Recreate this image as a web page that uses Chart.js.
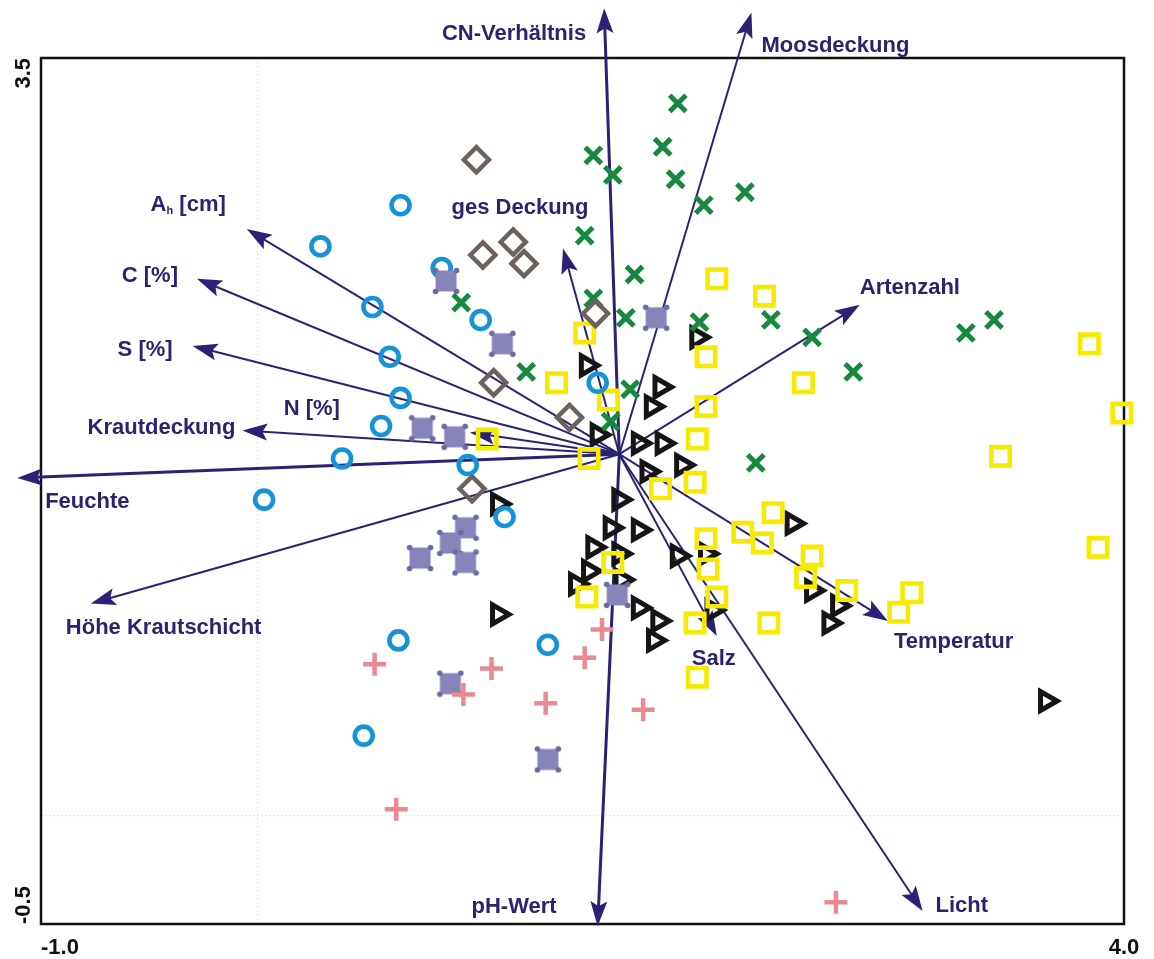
<!DOCTYPE html>
<html>
<head>
<meta charset="utf-8">
<script src="https://cdn.jsdelivr.net/npm/chart.js@4/dist/chart.umd.min.js"></script>
<style>
  html, body { margin: 0; padding: 0; background: #ffffff; }
  canvas { display: block; }
</style>
</head>
<body>
<canvas id="ordination" width="1154" height="959"></canvas>
<script>
// ---- sample scores (axis 1, axis 2) per vegetation group ----
const groupCircle = [[0.66,2.82],[0.29,2.63],[0.85,2.53],[0.53,2.35],[1.03,2.29],[0.61,2.12],[1.57,2.00],[0.66,1.93],[0.57,1.80],[0.39,1.65],[0.97,1.62],[0.03,1.46],[1.14,1.38],[0.65,0.81],[1.34,0.79],[0.49,0.37]];
const groupDiamond = [[1.01,3.03],[1.18,2.65],[1.04,2.59],[1.23,2.55],[1.56,2.32],[1.09,2.00],[1.44,1.84],[0.99,1.51]];
const groupCross = [[1.94,3.29],[1.87,3.09],[1.55,3.05],[1.64,2.96],[1.93,2.94],[2.25,2.88],[2.06,2.82],[1.51,2.68],[1.74,2.50],[0.94,2.37],[1.55,2.39],[1.70,2.30],[2.04,2.28],[2.37,2.29],[2.56,2.21],[3.27,2.23],[3.40,2.29],[2.75,2.05],[1.24,2.05],[1.72,1.97],[1.63,1.82],[2.30,1.63]];
const groupSquare = [[2.12,2.48],[2.34,2.40],[1.51,2.23],[2.07,2.12],[1.38,2.00],[2.52,2.00],[1.62,1.92],[2.07,1.89],[1.06,1.74],[2.03,1.74],[1.53,1.65],[1.86,1.51],[2.02,1.54],[3.84,2.18],[3.99,1.86],[3.43,1.66],[3.88,1.24],[2.38,1.40],[2.24,1.31],[2.33,1.26],[2.07,1.28],[2.56,1.20],[1.64,1.17],[2.08,1.14],[2.53,1.10],[2.72,1.04],[2.12,1.01],[3.02,1.03],[2.96,0.94],[1.52,1.01],[2.02,0.89],[2.36,0.89],[2.03,0.64]];
const groupTriangle = [[2.03,2.21],[1.52,2.08],[1.86,1.98],[1.82,1.89],[1.57,1.76],[1.76,1.72],[1.87,1.72],[1.96,1.62],[1.80,1.59],[1.67,1.46],[1.11,1.44],[1.63,1.33],[1.76,1.32],[1.55,1.24],[1.67,1.21],[1.94,1.20],[2.07,1.21],[1.53,1.13],[1.47,1.07],[1.68,1.09],[1.76,0.96],[1.85,0.90],[2.10,0.95],[1.83,0.81],[1.11,0.93],[2.47,1.35],[2.56,1.04],[2.68,0.97],[2.64,0.89],[3.64,0.53]];
const groupStud = [[0.87,2.47],[1.84,2.30],[1.13,2.18],[0.76,1.79],[0.91,1.75],[0.96,1.33],[0.89,1.26],[0.75,1.19],[0.96,1.17],[1.66,1.02],[0.89,0.61],[1.34,0.26]];
const groupPlus = [[0.54,0.70],[1.59,0.86],[1.51,0.73],[1.08,0.68],[0.95,0.56],[1.33,0.52],[1.78,0.49],[0.64,0.03],[2.67,-0.40]];

// ---- environmental variables (arrow tips, drawn from a common origin) ----
const envOrigin = [1.67, 1.67];
const envNames = ['CN-Verhältnis','Moosdeckung','ges Deckung','Artenzahl','A_h [cm]','C [%]','S [%]','N [%]','Krautdeckung','Feuchte','Höhe Krautschicht','pH-Wert','Salz','Temperatur','Licht'];
const envX = [1.60, 2.28, 1.41, 2.78, -0.05, -0.28, -0.30, 0.98, -0.07, -1.11, -0.77, 1.57, 2.12, 2.91, 3.07];
const envY = [3.73, 3.71, 2.62, 2.36, 2.71, 2.48, 2.17, 1.77, 1.78, 1.56, 0.98, -0.51, 0.83, 0.90, -0.44];

// ---- axis range and tick labels ----
const xRange = [-1.0, 4.0];
const yRange = [-0.5, 3.5];
const xTickValues = [-1.0, 4.0];
const xTickLabels = ['-1.0', '4.0'];
const yTickValues = [3.5, -0.5];
const yTickLabels = ['3.5', '-0.5'];
const zeroLines = [0, 0];

// ---- styling ----
const ARROW = '#2b2275';
const LABEL = '#2a2470';
const LABEL_FONT = '700 22px "Liberation Sans", Arial, sans-serif';
const TICK_FONT = '700 22px "Liberation Sans", Arial, sans-serif';
const envLineWidth = [3, 2, 2, 2, 2, 2, 2, 2, 2, 3, 2, 3, 2, 2, 2];
// label offset from arrow tip in px and text alignment
const envLabelPlace = [
  [-18, 26, 'right'], [10, 33, 'left'], [-43, -41, 'center'], [0, -17, 'left'],
  [-21, -24, 'right'], [-19, -3, 'right'], [-20, 4, 'right'], [-130, -24, 'right'],
  [-7, -2, 'right'], [28, 24, 'left'], [-25, 24, 'left'], [-41, -19, 'right'],
  [-3, 23, 'center'], [6, 21, 'left'], [13, -5, 'left']
];

// filled square with small studs at its corners
function makeStudMarker(size, fill, dot) {
  const c = document.createElement('canvas');
  c.width = size; c.height = size;
  const g = c.getContext('2d');
  const m = 3.5;
  g.fillStyle = fill;
  g.fillRect(m, m, size - 2 * m, size - 2 * m);
  g.fillStyle = dot;
  [[m, m], [size - m, m], [m, size - m], [size - m, size - m]].forEach(([px, py]) => {
    g.beginPath(); g.arc(px, py, 2.8, 0, Math.PI * 2); g.fill();
  });
  return c;
}

const toXY = arr => arr.map(([x, y]) => ({ x, y }));

// draws "A_h" style labels with a subscript part
function drawRichLabel(ctx, text, x, y, align) {
  const m = text.match(/^(.*?)_(\S)(.*)$/);
  if (!m) {
    ctx.textAlign = align;
    ctx.fillText(text, x, y);
    return;
  }
  const subFont = '700 11px "Liberation Sans", Arial, sans-serif';
  ctx.font = LABEL_FONT;
  const w1 = ctx.measureText(m[1]).width;
  const w3 = ctx.measureText(m[3]).width;
  ctx.font = subFont;
  const w2 = ctx.measureText(m[2]).width;
  const total = w1 + w2 + w3;
  let sx = align === 'right' ? x - total : align === 'center' ? x - total / 2 : x;
  ctx.textAlign = 'left';
  ctx.font = LABEL_FONT;
  ctx.fillText(m[1], sx, y);
  ctx.font = subFont;
  ctx.fillText(m[2], sx + w1, y + 6);
  ctx.font = LABEL_FONT;
  ctx.fillText(m[3], sx + w1 + w2, y);
}

const biplotPlugin = {
  id: 'biplot',
  beforeDatasetsDraw(chart) {
    const { ctx, chartArea: a, scales: { x, y } } = chart;
    ctx.save();
    // faint dotted zero lines
    ctx.strokeStyle = '#e2e2e2';
    ctx.lineWidth = 1;
    ctx.setLineDash([2, 2]);
    const zx = x.getPixelForValue(zeroLines[0]);
    const zy = y.getPixelForValue(zeroLines[1]);
    ctx.beginPath();
    ctx.moveTo(zx, a.top); ctx.lineTo(zx, a.bottom);
    ctx.moveTo(a.left, zy); ctx.lineTo(a.right, zy);
    ctx.stroke();
    ctx.setLineDash([]);
    // frame
    ctx.strokeStyle = '#111111';
    ctx.lineWidth = 2.5;
    ctx.strokeRect(a.left, a.top, a.right - a.left, a.bottom - a.top);
    // arrows
    const ox = x.getPixelForValue(envOrigin[0]);
    const oy = y.getPixelForValue(envOrigin[1]);
    envNames.forEach((name, i) => {
      const tx = x.getPixelForValue(envX[i]);
      const ty = y.getPixelForValue(envY[i]);
      const ang = Math.atan2(ty - oy, tx - ox);
      const c = Math.cos(ang), s = Math.sin(ang);
      const L = 25, W = 8.5;
      ctx.strokeStyle = ARROW;
      ctx.fillStyle = ARROW;
      ctx.lineWidth = envLineWidth[i];
      ctx.beginPath();
      ctx.moveTo(ox, oy);
      ctx.lineTo(tx - 0.7 * L * c, ty - 0.7 * L * s);
      ctx.stroke();
      const bx = tx - L * c, by = ty - L * s;
      ctx.beginPath();
      ctx.moveTo(tx, ty);
      ctx.lineTo(bx - W * s, by + W * c);
      ctx.lineTo(tx - 0.8 * L * c, ty - 0.8 * L * s);
      ctx.lineTo(bx + W * s, by - W * c);
      ctx.closePath();
      ctx.fill();
    });
    ctx.restore();
  },
  afterDatasetsDraw(chart) {
    const { ctx, chartArea: a, scales: { x, y } } = chart;
    ctx.save();
    // variable names
    ctx.fillStyle = LABEL;
    ctx.font = LABEL_FONT;
    ctx.textBaseline = 'middle';
    envNames.forEach((name, i) => {
      const tx = x.getPixelForValue(envX[i]);
      const ty = y.getPixelForValue(envY[i]);
      const [dx, dy, align] = envLabelPlace[i];
      drawRichLabel(ctx, name, tx + dx, ty + dy, align);
    });
    // axis end labels
    ctx.fillStyle = '#111111';
    ctx.font = TICK_FONT;
    ctx.textBaseline = 'middle';
    xTickValues.forEach((v, i) => {
      const px = x.getPixelForValue(v);
      ctx.textAlign = i === 0 ? 'left' : 'center';
      ctx.fillText(xTickLabels[i], px, a.bottom + 24);
    });
    yTickValues.forEach((v, i) => {
      const py = y.getPixelForValue(v);
      ctx.save();
      ctx.translate(a.left - 17, py);
      ctx.rotate(-Math.PI / 2);
      ctx.textAlign = i === 0 ? 'right' : 'left';
      ctx.fillText(yTickLabels[i], 0, 0);
      ctx.restore();
    });
    ctx.restore();
  }
};

const openStyle = (data, color, style, radius, width, rotation) => ({
  data: toXY(data),
  pointStyle: style,
  pointRadius: radius,
  pointHoverRadius: radius,
  pointBorderWidth: width,
  pointHoverBorderWidth: width,
  borderColor: color,
  pointBorderColor: color,
  backgroundColor: 'rgba(0,0,0,0)',
  pointBackgroundColor: 'rgba(0,0,0,0)',
  pointRotation: rotation || 0,
  showLine: false,
  clip: false
});

const studMarker = makeStudMarker(28, '#8784bc', '#6d6a9f');

new Chart(document.getElementById('ordination'), {
  type: 'scatter',
  data: {
    datasets: [
      Object.assign({ label: 'Gruppe A' }, openStyle(groupPlus, '#ea8990', 'cross', 11.5, 4.5)),
      Object.assign({ label: 'Gruppe B' }, {
        data: toXY(groupStud), pointStyle: studMarker, pointRadius: 12, pointHoverRadius: 12,
        showLine: false, clip: false
      }),
      Object.assign({ label: 'Gruppe C' }, openStyle(groupCircle, '#1593d8', 'circle', 9, 4.6)),
      Object.assign({ label: 'Gruppe D' }, openStyle(groupDiamond, '#6b625d', 'rectRot', 12.5, 4.5)),
      Object.assign({ label: 'Gruppe E' }, openStyle(groupCross, '#16893f', 'crossRot', 11.5, 5)),
      Object.assign({ label: 'Gruppe F' }, openStyle(groupSquare, '#f6ea00', 'rect', 13, 4.6)),
      Object.assign({ label: 'Gruppe G' }, openStyle(groupTriangle, '#151515', 'triangle', 11, 5, 90))
    ]
  },
  options: {
    responsive: false,
    animation: false,
    events: [],
    layout: { padding: { left: 41, top: 58, right: 30, bottom: 35 } },
    scales: {
      x: { type: 'linear', min: xRange[0], max: xRange[1], display: false },
      y: { type: 'linear', min: yRange[0], max: yRange[1], display: false }
    },
    plugins: { legend: { display: false }, tooltip: { enabled: false } }
  },
  plugins: [biplotPlugin]
});
</script>
</body>
</html>
